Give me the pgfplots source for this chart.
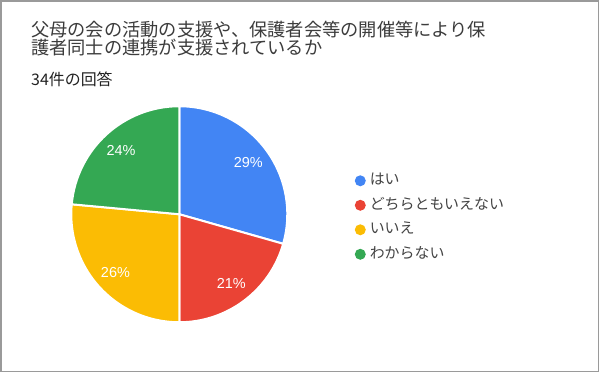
\documentclass[border=0pt]{standalone}
\usepackage{fontspec}
\setmainfont{Noto Sans CJK JP}
\newfontfamily\lat{Liberation Sans}
\usepackage{pgfplots}
\usepackage{pgfplotstable}
\pgfplotsset{compat=1.18}
\definecolor{pie0}{HTML}{4285F4}
\definecolor{pie1}{HTML}{EA4335}
\definecolor{pie2}{HTML}{FBBC04}
\definecolor{pie3}{HTML}{34A853}
\definecolor{gtitle}{HTML}{3C3C3C}
\definecolor{gsub}{HTML}{222222}
\definecolor{gleg}{HTML}{444444}
\definecolor{gframe}{HTML}{9A9A9A}

\pgfplotstableread[col sep=comma]{
label,value
はい,10
どちらともいえない,7
いいえ,9
わからない,8
}\pietable
\def\total{34}

\begin{document}
\begin{tikzpicture}[x=1bp,y=1bp]
\path[use as bounding box, fill=white] (0,0) rectangle (600,373);
\draw[gframe, line width=1.3bp] (1,1.3) rectangle (598.3,372);
\node[anchor=base west, inner sep=0pt, text=gtitle, font=\fontsize{18.3}{18}\selectfont] at (31,337) {父母の会の活動の支援や、保護者会等の開催等により保};
\node[anchor=base west, inner sep=0pt, text=gtitle, font=\fontsize{18.3}{18}\selectfont] at (31,318.7) {護者同士の連携が支援されているか};
\node[anchor=base west, inner sep=0pt, text=gsub, font=\fontsize{16}{16}\selectfont] at (31,288) {34件の回答};
\begin{axis}[
  x=108bp, y=108bp, xmin=-1, xmax=1, ymin=-1, ymax=1,
  hide axis, clip=false, anchor=center, at={(166,147)},
  legend cell align=left,
  legend style={draw=none, fill=none, at={(axis description cs:1.3125,0.4915)}, anchor=west,
    inner sep=0pt, outer sep=0pt, font=\fontsize{15}{16}\selectfont, text=gleg,
    nodes={inner sep=0pt, text height=12.5bp, text depth=2bp},
    row sep=10bp, column sep=4bp},
  legend image code/.code={\fill[#1] (5.5bp,-1.45bp) circle (5.5bp);},
]
\xdef\cum{90}
\pgfplotsforeachungrouped \r in {0,...,3}{%
  \pgfplotstablegetelem{\r}{value}\of\pietable
  \let\v\pgfplotsretval
  \pgfmathsetmacro\sa{\cum}
  \pgfmathsetmacro\ea{\cum-360*\v/\total}
  \pgfmathsetmacro\xs{cos(\sa)}
  \pgfmathsetmacro\ys{sin(\sa)}
  \pgfmathsetmacro\md{(\sa+\ea)/2}
  \pgfmathsetmacro\lx{0.8*cos(\md)}
  \pgfmathsetmacro\ly{0.8*sin(\md)}
  \pgfmathtruncatemacro\pct{round(100*\v/\total)}
  \edef\temp{\noexpand\addplot[forget plot, fill=pie\r, draw=white, line width=2bp] coordinates {(0,0) (\xs,\ys)} arc[start angle=\sa, end angle=\ea, radius=108bp] -- cycle;
    \noexpand\node[text=white, inner sep=0pt, font=\noexpand\lat\noexpand\fontsize{14.5}{16}\noexpand\selectfont] at (axis cs:\lx,\ly) {\pct\noexpand\%};}
  \temp
  \xdef\cum{\ea}
}
\pgfplotsforeachungrouped \r in {0,...,3}{%
  \pgfplotstablegetelem{\r}{label}\of\pietable
  \edef\temp{\noexpand\addlegendimage{fill=pie\r, draw=none}\noexpand\addlegendentry{\pgfplotsretval}}
  \temp
}
\end{axis}
\end{tikzpicture}
\end{document}
